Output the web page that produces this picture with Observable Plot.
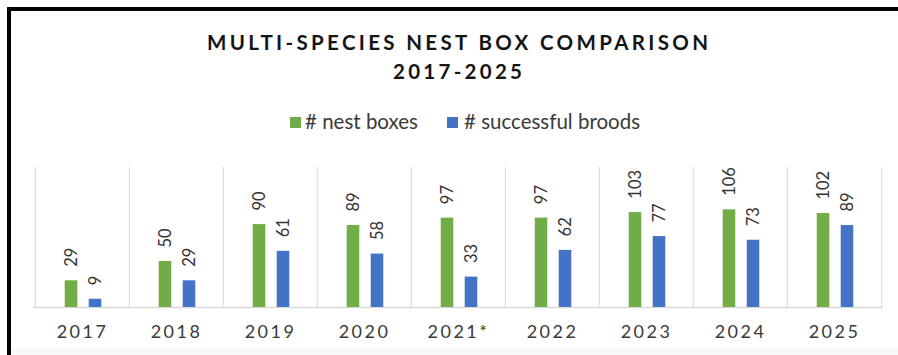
<!DOCTYPE html>
<html>
<head>
<meta charset="utf-8">
<script src="https://cdn.jsdelivr.net/npm/d3@7"></script>
<script src="https://cdn.jsdelivr.net/npm/@observablehq/plot@0.6"></script>
<style>
  html, body { margin: 0; padding: 0; background: #fff; }
  #wrap { position: relative; width: 898px; height: 355px; background: #fff; overflow: hidden; font-family: Lato, "Open Sans", sans-serif; }
  .line { position: absolute; white-space: nowrap; }
  .title { font-weight: 700; font-size: 20.5px; line-height: 20px; color: #141414; }
  .leg { font-size: 20.5px; line-height: 20px; color: #3a3a3a; }
  .sw { position: absolute; width: 11px; height: 11px; }
  #chart { position: absolute; left: 0; top: 150px; }
  .bt { position: absolute; left: 7px; top: 7px; right: 0; height: 4px; background: #000; z-index: 5; }
  .bl { position: absolute; left: 7px; top: 7px; bottom: 0; width: 4px; background: #000; z-index: 5; }
  .bb { position: absolute; left: 11px; right: 0; top: 348px; bottom: 0; background: #f9f9f9; z-index: 4; }
  .chart [aria-label^="x-axis"] text { letter-spacing: 2.5px; }
</style>
</head>
<body>
<div id="wrap">
  <div id="chart"></div>
  <div class="bb"></div>
  <div class="bt"></div>
  <div class="bl"></div>
  <div id="t1" class="line title" style="top:31.5px">MULTI-SPECIES NEST BOX COMPARISON</div>
  <div id="t2" class="line title" style="top:60.5px">2017-2025</div>
  <div class="sw" style="left:290px;top:117px;background:#70ad47"></div>
  <div id="l1" class="line leg" style="left:305px;top:111px"># nest boxes</div>
  <div class="sw" style="left:447px;top:117px;background:#4472c4"></div>
  <div id="l2" class="line leg" style="left:464px;top:111px"># successful broods</div>
</div>
<script>
const years = ["2017", "2018", "2019", "2020", "2021*", "2022", "2023", "2024", "2025"];
const nestBoxes = [29, 50, 90, 89, 97, 97, 103, 106, 102];
const successfulBroods = [9, 29, 61, 58, 33, 62, 77, 73, 89];
const seriesNames = ["# nest boxes", "# successful broods"];
const seriesColors = ["#70ad47", "#4472c4"];

// fit title lines to their measured extents via letter spacing
function fitLine(id, left, right) {
  const el = document.getElementById(id);
  el.style.letterSpacing = "0px";
  el.style.left = left + "px";
  const w = el.getBoundingClientRect().width;
  const n = el.textContent.length;
  el.style.letterSpacing = ((right - left - w) / (n - 1)) + "px";
}
fitLine("t1", 207, 708);
fitLine("t2", 393, 522);

const green = years.map((y, i) => ({year: y, value: nestBoxes[i], series: seriesNames[0]}));
const blue = years.map((y, i) => ({year: y, value: successfulBroods[i], series: seriesNames[1]}));

const W = 898, ML = 33, MR = 15;
const bw = (W - ML - MR) / years.length;
const barW = 13;
const inset = (bw - barW) / 2;
const gdx = -11, bdx = 13;

const plot = Plot.plot({
  width: W,
  height: 205,
  marginTop: 17,
  marginBottom: 48,
  marginLeft: ML,
  marginRight: MR,
  className: "chart",
  style: {fontFamily: "Lato, 'Open Sans', sans-serif", fontSize: "18px", color: "#3a3a3a", background: "transparent"},
  x: {domain: years, padding: 0, tickSize: 0, tickPadding: 18, label: null},
  y: {domain: [0, 152], axis: null},
  marks: [
    Plot.ruleX(years, {x: d => d, dx: -bw / 2, stroke: "#d9d9d9", strokeWidth: 1}),
    Plot.ruleX(years.slice(-1), {x: d => d, dx: bw / 2, stroke: "#d9d9d9", strokeWidth: 1}),
    Plot.ruleY([0], {stroke: "#d9d9d9", strokeWidth: 1.5}),
    Plot.barY(green, {x: "year", y: "value", fill: seriesColors[0], insetLeft: inset, insetRight: inset, dx: gdx}),
    Plot.barY(blue, {x: "year", y: "value", fill: seriesColors[1], insetLeft: inset, insetRight: inset, dx: bdx}),
    Plot.text(green, {x: "year", y: "value", text: d => String(d.value), rotate: -90, textAnchor: "start", dx: gdx, dy: -14, fontSize: 16.5, fill: "#333333"}),
    Plot.text(blue, {x: "year", y: "value", text: d => String(d.value), rotate: -90, textAnchor: "start", dx: bdx, dy: -14, fontSize: 16.5, fill: "#333333"})
  ]
});
document.getElementById("chart").appendChild(plot);
</script>
</body>
</html>
